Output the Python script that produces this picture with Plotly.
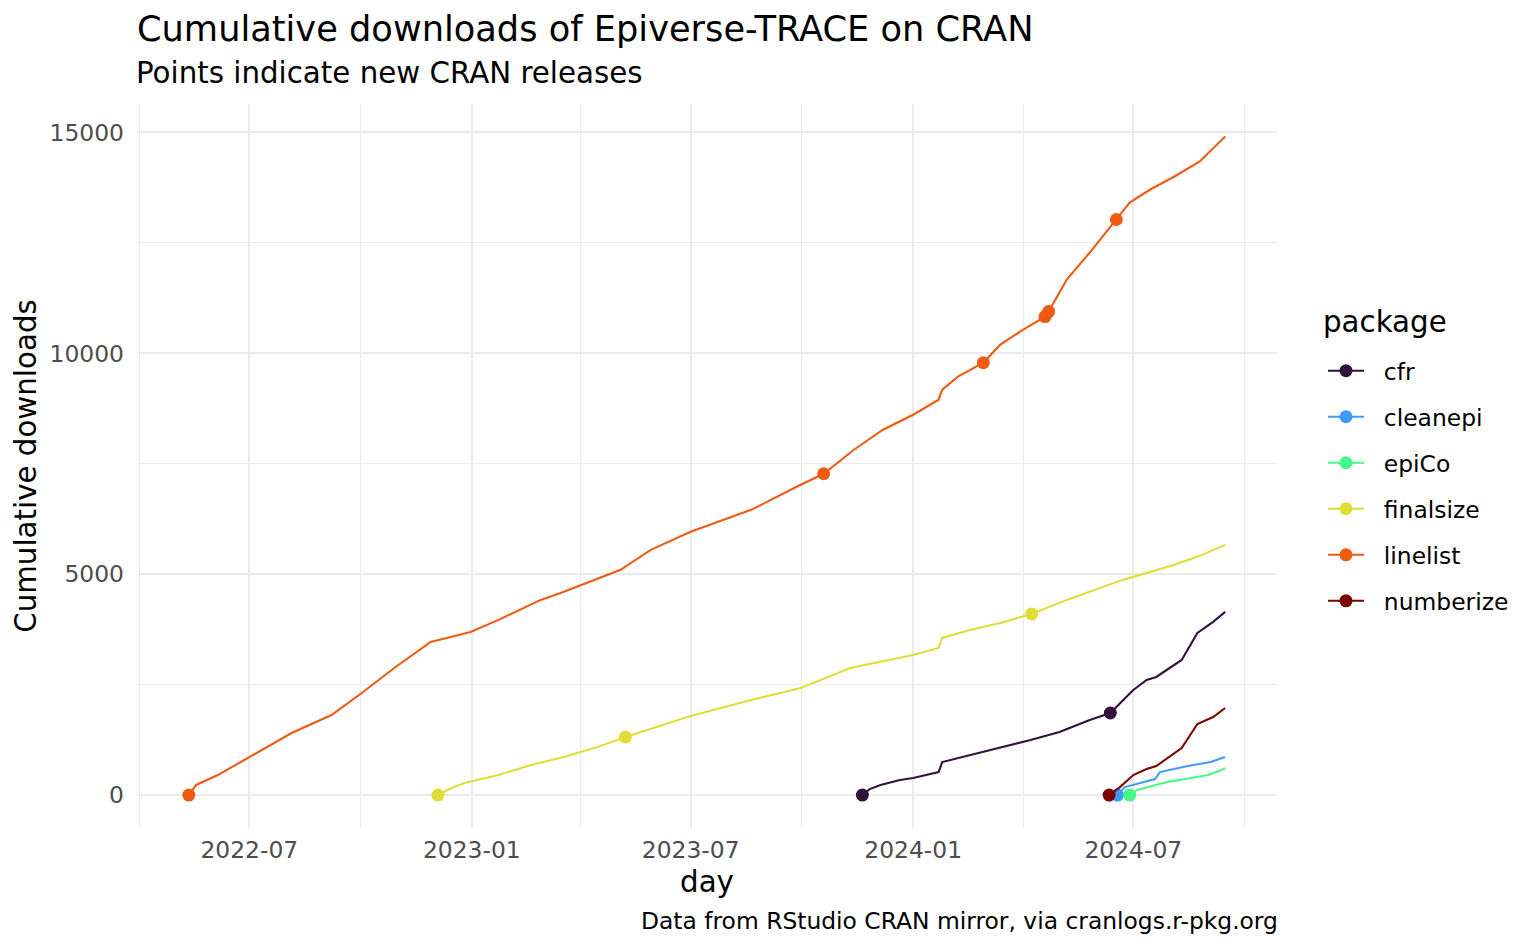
import plotly.graph_objects as go

# ---------------- data ----------------
packages = ["cfr", "cleanepi", "epiCo", "finalsize", "linelist", "numberize"]
colors = ["#30123B", "#3E9BFE", "#46F884", "#E1DD37", "#F05B12", "#7A0403"]

cfr_days = ["2023-11-20", "2023-11-26", "2023-12-05", "2023-12-21", "2024-01-01", "2024-01-22",
            "2024-01-25", "2024-02-17", "2024-03-13", "2024-04-07", "2024-05-01", "2024-05-26",
            "2024-06-12", "2024-07-01", "2024-07-12", "2024-07-20", "2024-08-10", "2024-08-23",
            "2024-09-05", "2024-09-15"]
cfr_downloads = [0, 136, 227, 340, 385, 521, 748, 906, 1065, 1246, 1428, 1700, 1858, 2379, 2606,
                 2674, 3059, 3671, 3920, 4147]
cfr_releases = ["2023-11-20", "2024-06-12"]

cleanepi_days = ["2024-06-18", "2024-06-24", "2024-07-19", "2024-07-23", "2024-08-15", "2024-09-03",
                 "2024-09-15"]
cleanepi_downloads = [0, 181, 363, 521, 657, 748, 861]
cleanepi_releases = ["2024-06-18"]

epico_days = ["2024-06-28", "2024-07-04", "2024-07-29", "2024-09-01", "2024-09-12", "2024-09-15"]
epico_downloads = [0, 113, 295, 453, 567, 612]
epico_releases = ["2024-06-28"]

finalsize_days = ["2022-12-04", "2022-12-15", "2022-12-26", "2023-01-23", "2023-02-19", "2023-03-18",
                  "2023-04-15", "2023-05-08", "2023-07-01", "2023-08-20", "2023-09-30", "2023-11-10",
                  "2024-01-01", "2024-01-22", "2024-01-25", "2024-02-17", "2024-03-13", "2024-04-08",
                  "2024-05-07", "2024-06-22", "2024-07-01", "2024-08-04", "2024-08-25", "2024-09-15"]
finalsize_downloads = [0, 159, 272, 453, 680, 861, 1088, 1314, 1790, 2153, 2425, 2878, 3172, 3331,
                       3558, 3739, 3898, 4101, 4419, 4872, 4940, 5212, 5416, 5665]
finalsize_releases = ["2022-12-04", "2023-05-08", "2024-04-08"]

linelist_days = ["2022-05-12", "2022-05-18", "2022-06-05", "2022-07-01", "2022-08-05", "2022-09-07",
                 "2022-10-02", "2022-10-30", "2022-11-28", "2022-12-31", "2023-01-23", "2023-02-27",
                 "2023-03-16", "2023-05-04", "2023-05-29", "2023-07-01", "2023-08-20", "2023-09-30",
                 "2023-10-19", "2023-11-13", "2023-12-07", "2024-01-01", "2024-01-22", "2024-01-25",
                 "2024-02-07", "2024-02-28", "2024-03-13", "2024-04-01", "2024-04-19", "2024-04-22",
                 "2024-05-07", "2024-05-26", "2024-06-17", "2024-06-28", "2024-07-15", "2024-08-04",
                 "2024-08-25", "2024-09-15"]
linelist_downloads = [0, 230, 453, 861, 1405, 1813, 2311, 2900, 3467, 3694, 3966, 4419, 4580, 5100,
                      5552, 5960, 6458, 7025, 7274, 7818, 8271, 8611, 8951, 9177, 9472, 9789, 10197,
                      10537, 10832, 10945, 11670, 12282, 13030, 13415, 13709, 14004, 14344, 14910]
linelist_releases = ["2022-05-12", "2023-10-19", "2024-02-28", "2024-04-19", "2024-04-22", "2024-06-17"]

numberize_days = ["2024-06-11", "2024-06-20", "2024-07-01", "2024-07-12", "2024-07-20", "2024-08-10",
                  "2024-08-23", "2024-09-05", "2024-09-15"]
numberize_downloads = [0, 181, 453, 589, 657, 1065, 1609, 1768, 1971]
numberize_releases = ["2024-06-11"]

x_major = ["2022-07-01", "2023-01-01", "2023-07-01", "2024-01-01", "2024-07-01"]
x_labels = ["2022-07", "2023-01", "2023-07", "2024-01", "2024-07"]
x_minor = ["2022-04-01", "2022-10-01", "2023-04-01", "2023-10-01", "2024-04-01", "2024-10-01"]
y_major = [0, 5000, 10000, 15000]
y_minor = [2500, 7500, 12500]

series = {
    "cfr": (cfr_days, cfr_downloads, cfr_releases),
    "cleanepi": (cleanepi_days, cleanepi_downloads, cleanepi_releases),
    "epiCo": (epico_days, epico_downloads, epico_releases),
    "finalsize": (finalsize_days, finalsize_downloads, finalsize_releases),
    "linelist": (linelist_days, linelist_downloads, linelist_releases),
    "numberize": (numberize_days, numberize_downloads, numberize_releases),
}

FONT = "DejaVu Sans"
S_SMALL, S_MED, S_TITLE = 23.4, 29.3, 35.2
W, H = 1520, 933          # page has an 8px body margin
L, R, T, B = 129, 251, 96, 113
PH = H - T - B
PW = W - L - R

fig = go.Figure()
for pkg, col in zip(packages, colors):
    days, vals, rel = series[pkg]
    sel = [i for i, d in enumerate(days) if d in rel]
    fig.add_trace(go.Scatter(
        x=days, y=vals, name="\u00a0\u00a0" + pkg, mode="lines+markers",
        line=dict(color=col, width=2.1),
        marker=dict(color=col, size=13, opacity=1, line=dict(width=0)),
        selectedpoints=sel,
        selected=dict(marker=dict(opacity=1)),
        unselected=dict(marker=dict(opacity=0)),
        legendgroup=pkg,
    ))

grid = "#EBEBEB"
fig.update_layout(
    width=W, height=H,
    margin=dict(l=L, r=R, t=T, b=B),
    paper_bgcolor="white", plot_bgcolor="white",
    font=dict(family=FONT, color="black"),
    title=dict(text="Cumulative downloads of Epiverse-TRACE on CRAN",
               x=L / W, xanchor="left", xref="container",
               y=1 - 21 / H, yanchor="middle", yref="container",
               font=dict(size=S_TITLE, family=FONT, color="black")),
    showlegend=True,
    legend=dict(
        font=dict(size=S_SMALL, family=FONT, color="black"),
        x=1 + 46 / PW, xanchor="left", y=1 - (349 - 104) / PH, yanchor="top",
        itemwidth=36, tracegroupgap=12.6, bgcolor="rgba(0,0,0,0)",
    ),
    xaxis=dict(
        type="date", range=["2022-03-30 04:00", "2024-10-27 20:00"],
        tickmode="array", tickvals=x_major, ticktext=x_labels,
        tickfont=dict(size=S_SMALL, family=FONT, color="#4D4D4D"),
        showgrid=True, gridcolor=grid, gridwidth=2.2,
        minor=dict(tickmode="array", tickvals=x_minor, showgrid=True, gridcolor=grid, gridwidth=1.1),
        zeroline=False, showline=False, ticks="",
        ticklabelstandoff=6,
        title=dict(text="day", font=dict(size=S_MED, family=FONT, color="black"), standoff=8),
    ),
    yaxis=dict(
        range=[-745, 15645],
        tickmode="array", tickvals=y_major, ticktext=[str(v) for v in y_major],
        tickfont=dict(size=S_SMALL, family=FONT, color="#4D4D4D"),
        showgrid=True, gridcolor=grid, gridwidth=2.2,
        minor=dict(tickmode="array", tickvals=y_minor, showgrid=True, gridcolor=grid, gridwidth=1.1),
        zeroline=False, showline=False, ticks="",
        ticklabelstandoff=12,
        title=dict(text="Cumulative downloads", font=dict(size=S_MED, family=FONT, color="black"), standoff=4),
    ),
    annotations=[
        dict(text="Points indicate new CRAN releases", x=-3 / PW, xref="paper", xanchor="left",
             y=1 + (104 - 73) / PH, yref="paper", yanchor="middle", showarrow=False,
             font=dict(size=S_MED, family=FONT, color="black")),
        dict(text="Data from RStudio CRAN mirror, via cranlogs.r-pkg.org", x=1 + 3 / PW, xref="paper",
             xanchor="right", y=-(921 - 828) / PH, yref="paper", yanchor="middle", showarrow=False,
             font=dict(size=S_SMALL, family=FONT, color="black")),
        dict(text="package", x=1 + (1321 - 1277) / PW, xref="paper", xanchor="left",
             y=1 - (322 - 104) / PH, yref="paper", yanchor="middle", showarrow=False,
             font=dict(size=S_MED, family=FONT, color="black")),
    ],
)

fig.write_html("out.html")
